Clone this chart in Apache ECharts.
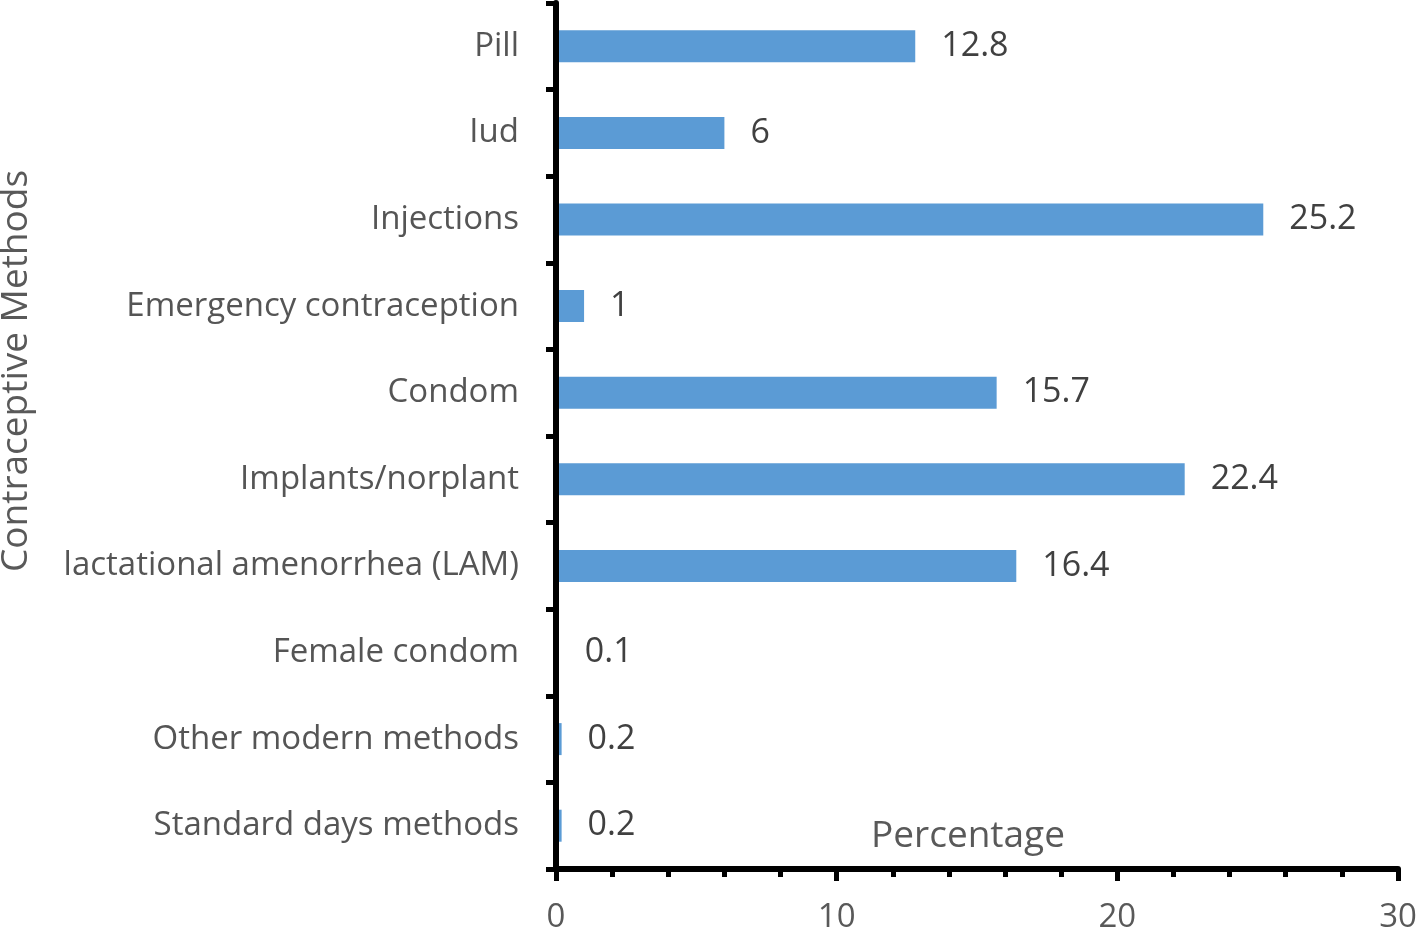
<!DOCTYPE html>
<html>
<head>
<meta charset="utf-8">
<script src="https://cdn.jsdelivr.net/npm/echarts@6/dist/echarts.min.js"></script>
<style>html,body{margin:0;padding:0;background:#fff}#c{width:1417px;height:931px}</style>
</head>
<body>
<div id="c"></div>
<script>
const categories = ["Pill","Iud","Injections","Emergency contraception","Condom","Implants/norplant","lactational amenorrhea (LAM)","Female condom","Other modern methods","Standard days methods"];
const values = [12.8, 6, 25.2, 1, 15.7, 22.4, 16.4, 0.1, 0.2, 0.2];
const xTickLabels = [0, 10, 20, 30];
const xAxisTitle = "Percentage";
const yAxisTitle = "Contraceptive Methods";

const FONT = "'Open Sans', Lato, sans-serif";
const chart = echarts.init(document.getElementById('c'), null, {renderer: 'canvas'});
chart.setOption({
  animation: false,
  grid: {left: 556, right: 19, top: 3, bottom: 62, containLabel: false, outerBoundsMode: 'none'},
  xAxis: {
    type: 'value', min: xTickLabels[0], max: xTickLabels[xTickLabels.length-1], interval: 10, z: 10,
    axisLine: {show: true, lineStyle: {color: '#000', width: 6}},
    axisTick: {show: true, length: 12, lineStyle: {color: '#000', width: 5}},
    minorTick: {show: true, splitNumber: 5, length: 8, lineStyle: {color: '#000', width: 5}},
    splitLine: {show: false},
    axisLabel: {fontFamily: FONT, fontSize: 33, color: '#595959', margin: 32}
  },
  yAxis: {
    type: 'category', data: categories, inverse: true, z: 10,
    axisLine: {show: true, lineStyle: {color: '#000', width: 6}},
    axisTick: {show: true, length: 10, lineStyle: {color: '#000', width: 5}},
    axisLabel: {fontFamily: FONT, fontSize: 33, color: '#555555', margin: 37, padding: [4, 0, 0, 0]}
  },
  graphic: [{
    type: 'text', x: 16, y: 371, rotation: Math.PI / 2,
    style: {text: yAxisTitle, font: "37px " + FONT, fill: '#595959', textAlign: 'center', textVerticalAlign: 'middle'}
  }, {
    type: 'text', x: 968, y: 836,
    style: {text: xAxisTitle, font: "37px " + FONT, fill: '#595959', textAlign: 'center', textVerticalAlign: 'middle'}
  }],
  series: [{
    type: 'bar', data: values, barWidth: 32,
    itemStyle: {color: '#5B9BD5'},
    label: {show: true, position: 'right', distance: 26, fontFamily: FONT, fontSize: 34, color: '#404040', padding: [4, 0, 0, 0]}
  }]
});
</script>
</body>
</html>
